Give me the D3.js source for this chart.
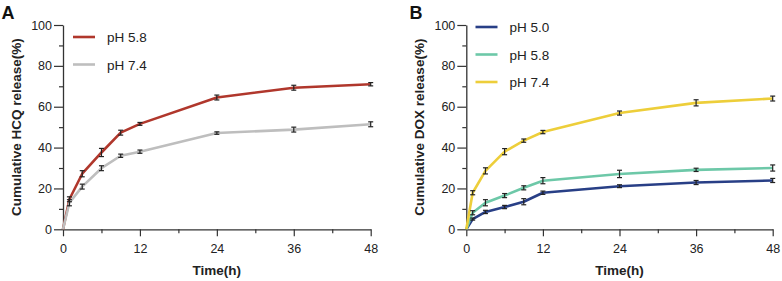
<!DOCTYPE html>
<html><head><meta charset="utf-8">
<script src="https://cdn.jsdelivr.net/npm/d3@7"></script>
<style>body{margin:0;background:#fff}svg{display:block;font-family:"Liberation Sans",Arial,sans-serif}</style>
</head><body>
<svg id="c" width="782" height="281"></svg>
<script>
const times = [0, 1, 3, 6, 9, 12, 24, 36, 48];
const xTicks = [0, 12, 24, 36, 48];
const yTicks = [0, 20, 40, 60, 80, 100];

// Panel A (HCQ)
const hcq58 = [0, 14.7, 27.2, 37.6, 47.3, 51.6, 64.5, 69.3, 71.0];
const hcq58Err = [0, 1.2, 1.5, 2.0, 1.2, 0.7, 1.2, 1.2, 0.8];
const hcq74 = [0, 13.0, 20.9, 29.9, 36.0, 38.0, 47.1, 48.8, 51.4];
const hcq74Err = [0, 1.5, 1.2, 1.2, 0.8, 0.8, 0.6, 1.2, 1.2];

// Panel B (DOX)
const dox50 = [0, 5.0, 8.5, 10.9, 13.5, 17.9, 21.1, 22.9, 23.9];
const dox50Err = [0, 0.5, 0.8, 0.8, 1.5, 0.8, 0.7, 1.0, 1.0];
const dox58 = [0, 8.1, 13.0, 16.5, 20.3, 23.8, 27.1, 29.1, 30.0];
const dox58Err = [0, 1.0, 1.5, 1.0, 1.0, 1.5, 1.8, 0.8, 1.5];
const dox74 = [0, 17.9, 28.6, 38.0, 43.4, 47.6, 56.9, 61.9, 64.0];
const dox74Err = [0, 1.0, 1.5, 1.5, 0.8, 0.8, 1.0, 1.5, 1.2];

const panels = [
  {letter: "A", x0: 63, x1: 370.7, ytitle: "Cumulative HCQ release(%)", ytitleX: 20.5, letterX: 1.5,
   legX: 73, legY: 37,
   series: [
     {name: "pH 5.8", vals: hcq58, err: hcq58Err, color: "#B0372C"},
     {name: "pH 7.4", vals: hcq74, err: hcq74Err, color: "#BEBEBE"}
   ]},
  {letter: "B", x0: 466.3, x1: 772.7, ytitle: "Cumulative DOX release(%)", ytitleX: 424, letterX: 409.5,
   legX: 475.5, legY: 27,
   series: [
     {name: "pH 5.0", vals: dox50, err: dox50Err, color: "#283F86"},
     {name: "pH 5.8", vals: dox58, err: dox58Err, color: "#6DC8A8"},
     {name: "pH 7.4", vals: dox74, err: dox74Err, color: "#EDCE3A"}
   ]}
];

const svg = d3.select("#c");
const yTop = 25, yBot = 229.3;
const axisColor = "#333";

panels.forEach(p => {
  const g = svg.append("g");
  const x = d3.scaleLinear().domain([0, 48]).range([p.x0, p.x1]);
  const y = d3.scaleLinear().domain([0, 100]).range([yBot, yTop]);

  // minor ticks
  const xm = g.append("g").attr("transform", `translate(0,${yBot})`)
    .call(d3.axisBottom(x).tickValues([6, 18, 30, 42]).tickSize(4).tickFormat(""));
  xm.select(".domain").remove();
  const ym = g.append("g").attr("transform", `translate(${p.x0},0)`)
    .call(d3.axisLeft(y).tickValues([10, 30, 50, 70, 90]).tickSize(4).tickFormat(""));
  ym.select(".domain").remove();

  const xa = g.append("g").attr("transform", `translate(0,${yBot})`)
    .call(d3.axisBottom(x).tickValues(xTicks).tickSize(7).tickPadding(8).tickSizeOuter(0));
  const ya = g.append("g").attr("transform", `translate(${p.x0},0)`)
    .call(d3.axisLeft(y).tickValues(yTicks).tickSize(9).tickPadding(2).tickSizeOuter(0));
  [xa, ya, xm, ym].forEach(a => {
    a.selectAll("line").attr("stroke", axisColor).attr("stroke-width", 1.2);
    a.selectAll("path").attr("stroke", axisColor).attr("stroke-width", 1.3);
    a.selectAll("text").attr("fill", "#222").style("font-size", "12.5px")
      .style("font-family", '"Liberation Sans",Arial,sans-serif');
  });

  // titles
  g.append("text").attr("x", (p.x0 + p.x1) / 2).attr("y", 275).attr("text-anchor", "middle")
    .style("font-size", "13.5px").style("font-weight", "bold").attr("fill", "#222").text("Time(h)");
  g.append("text").attr("transform", `translate(${p.ytitleX},${(yTop + yBot) / 2 + 0}) rotate(-90)`)
    .attr("text-anchor", "middle").style("font-size", "13.5px").style("font-weight", "bold")
    .attr("fill", "#222").text(p.ytitle);
  g.append("text").attr("x", p.letterX).attr("y", 18.5).style("font-size", "18px")
    .style("font-weight", "bold").attr("fill", "#111").text(p.letter);

  const line = d3.line().x((d, i) => x(times[i])).y(d => y(d)).curve(d3.curveLinear);

  p.series.forEach((s, si) => {
    g.append("path").datum(s.vals).attr("d", line).attr("fill", "none")
      .attr("stroke", s.color).attr("stroke-width", 2.6).attr("stroke-linejoin", "round");
    // legend
    const ly = p.legY + si * 27.5;
    g.append("line").attr("x1", p.legX).attr("x2", p.legX + 22).attr("y1", ly).attr("y2", ly)
      .attr("stroke", s.color).attr("stroke-width", 2.6);
    g.append("text").attr("x", p.legX + 34).attr("y", ly + 5).style("font-size", "13.5px")
      .attr("fill", "#222").text(s.name);
  });
  // error bars on top
  p.series.forEach(s => {
    const eb = g.append("g");
    s.vals.forEach((v, i) => {
      const e = s.err[i];
      if (!e) return;
      const cx = x(times[i]);
      eb.append("line").attr("x1", cx).attr("x2", cx).attr("y1", y(v - e)).attr("y2", y(v + e))
        .attr("stroke", "#222").attr("stroke-width", 1.2);
      [v - e, v + e].forEach(w => eb.append("line").attr("x1", cx - 2.5).attr("x2", cx + 2.5)
        .attr("y1", y(w)).attr("y2", y(w)).attr("stroke", "#222").attr("stroke-width", 1.2));
    });
  });
});
</script>
</body></html>
